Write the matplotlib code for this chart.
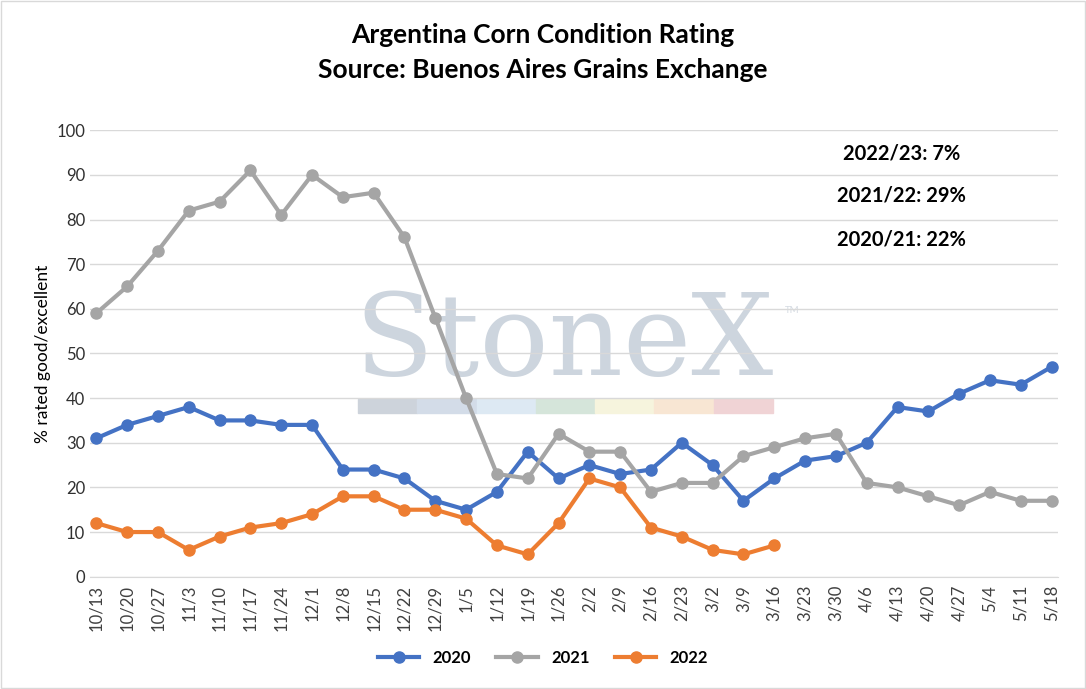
import matplotlib.pyplot as plt
from matplotlib.patches import Rectangle

plt.rcParams['font.family'] = ['Lato', 'DejaVu Sans']

weeks = ['10/13', '10/20', '10/27', '11/3', '11/10', '11/17', '11/24', '12/1',
         '12/8', '12/15', '12/22', '12/29', '1/5', '1/12', '1/19', '1/26',
         '2/2', '2/9', '2/16', '2/23', '3/2', '3/9', '3/16', '3/23', '3/30',
         '4/6', '4/13', '4/20', '4/27', '5/4', '5/11', '5/18']

y2020 = [31, 34, 36, 38, 35, 35, 34, 34, 24, 24, 22, 17, 15, 19, 28, 22,
         25, 23, 24, 30, 25, 17, 22, 26, 27, 30, 38, 37, 41, 44, 43, 47]
y2021 = [59, 65, 73, 82, 84, 91, 81, 90, 85, 86, 76, 58, 40, 23, 22, 32,
         28, 28, 19, 21, 21, 27, 29, 31, 32, 21, 20, 18, 16, 19, 17, 17]
y2022 = [12, 10, 10, 6, 9, 11, 12, 14, 18, 18, 15, 15, 13, 7, 5, 12,
         22, 20, 11, 9, 6, 5, 7]

notes = ['2022/23: 7%', '2021/22: 29%', '2020/21: 22%']

fig = plt.figure(figsize=(10.86, 6.89), dpi=100)
ax = fig.add_axes([0.083, 0.163, 0.891, 0.648])

# watermark, drawn inside the axes so the lines sit on top of it
ax.text(564 / 1086, 1 - 375 / 689, 'StoneX', fontsize=83, family='DejaVu Serif',
        color='#cdd5de', ha='center', va='baseline', zorder=0.3,
        transform=fig.transFigure)
ax.text(785 / 1086, 1 - 311 / 689, 'TM', fontsize=7, color='#d5dbe2', ha='left',
        va='center', zorder=0.3, transform=fig.transFigure)
bar_cols = ['#cdd3db', '#d3dce8', '#dde9f3', '#d5e5da', '#f6f4dd', '#f8e6d3', '#f0d3d5']
x0, w = 358 / 1086, (773 - 358) / 1086 / 7
for i, c in enumerate(bar_cols):
    ax.add_patch(Rectangle((x0 + i * w, 1 - 413 / 689), w, 14 / 689,
                           transform=fig.transFigure, color=c, zorder=0.3,
                           clip_on=False))

x = list(range(len(weeks)))
ax.plot(x, y2020, color='#4472C4', lw=3, marker='o', ms=8, label='2020', zorder=3)
ax.plot(x, y2021, color='#A5A5A5', lw=3, marker='o', ms=8, label='2021', zorder=3)
ax.plot(x[:len(y2022)], y2022, color='#ED7D31', lw=3, marker='o', ms=8, label='2022',
        zorder=3)

ax.set_xlim(-0.2, len(weeks) - 0.8)
ax.set_ylim(0, 100)
ax.set_yticks(range(0, 101, 10))
ax.set_xticks(x)
ax.set_xticklabels(weeks, rotation=90, fontsize=12, color='#404040')
ax.tick_params(axis='y', labelsize=12, labelcolor='#303030', length=0)
ax.tick_params(axis='x', length=0, pad=6)
ax.grid(axis='y', color='#d9d9d9', lw=1, zorder=0.5)
ax.set_axisbelow(True)
for s in ['top', 'right', 'left']:
    ax.spines[s].set_visible(False)
ax.spines['bottom'].set_color('#d9d9d9')
ax.set_ylabel('% rated good/excellent', fontsize=12.5)
ax.patch.set_alpha(0)

for i, t in enumerate(notes):
    fig.text(0.83, 1 - (153 + i * 43) / 689, t, fontsize=14.5, fontweight='bold',
             ha='center', va='center')

fig.text(0.5, 1 - 35 / 689, 'Argentina Corn Condition Rating', fontsize=19,
         fontweight='bold', ha='center', va='center')
fig.text(0.5, 1 - 70 / 689, 'Source: Buenos Aires Grains Exchange', fontsize=19,
         fontweight='bold', ha='center', va='center')

fig.legend(loc='center', bbox_to_anchor=(0.5, 1 - 658 / 689), ncol=3,
           frameon=False, handlelength=2.5, columnspacing=1.5,
           prop={'weight': 'bold', 'size': 12})

fig.patches.append(Rectangle((0.001, 0.001), 0.998, 0.998, transform=fig.transFigure,
                             fill=False, edgecolor='#d9d9d9', lw=1))

fig.savefig('out.png', dpi=100)
